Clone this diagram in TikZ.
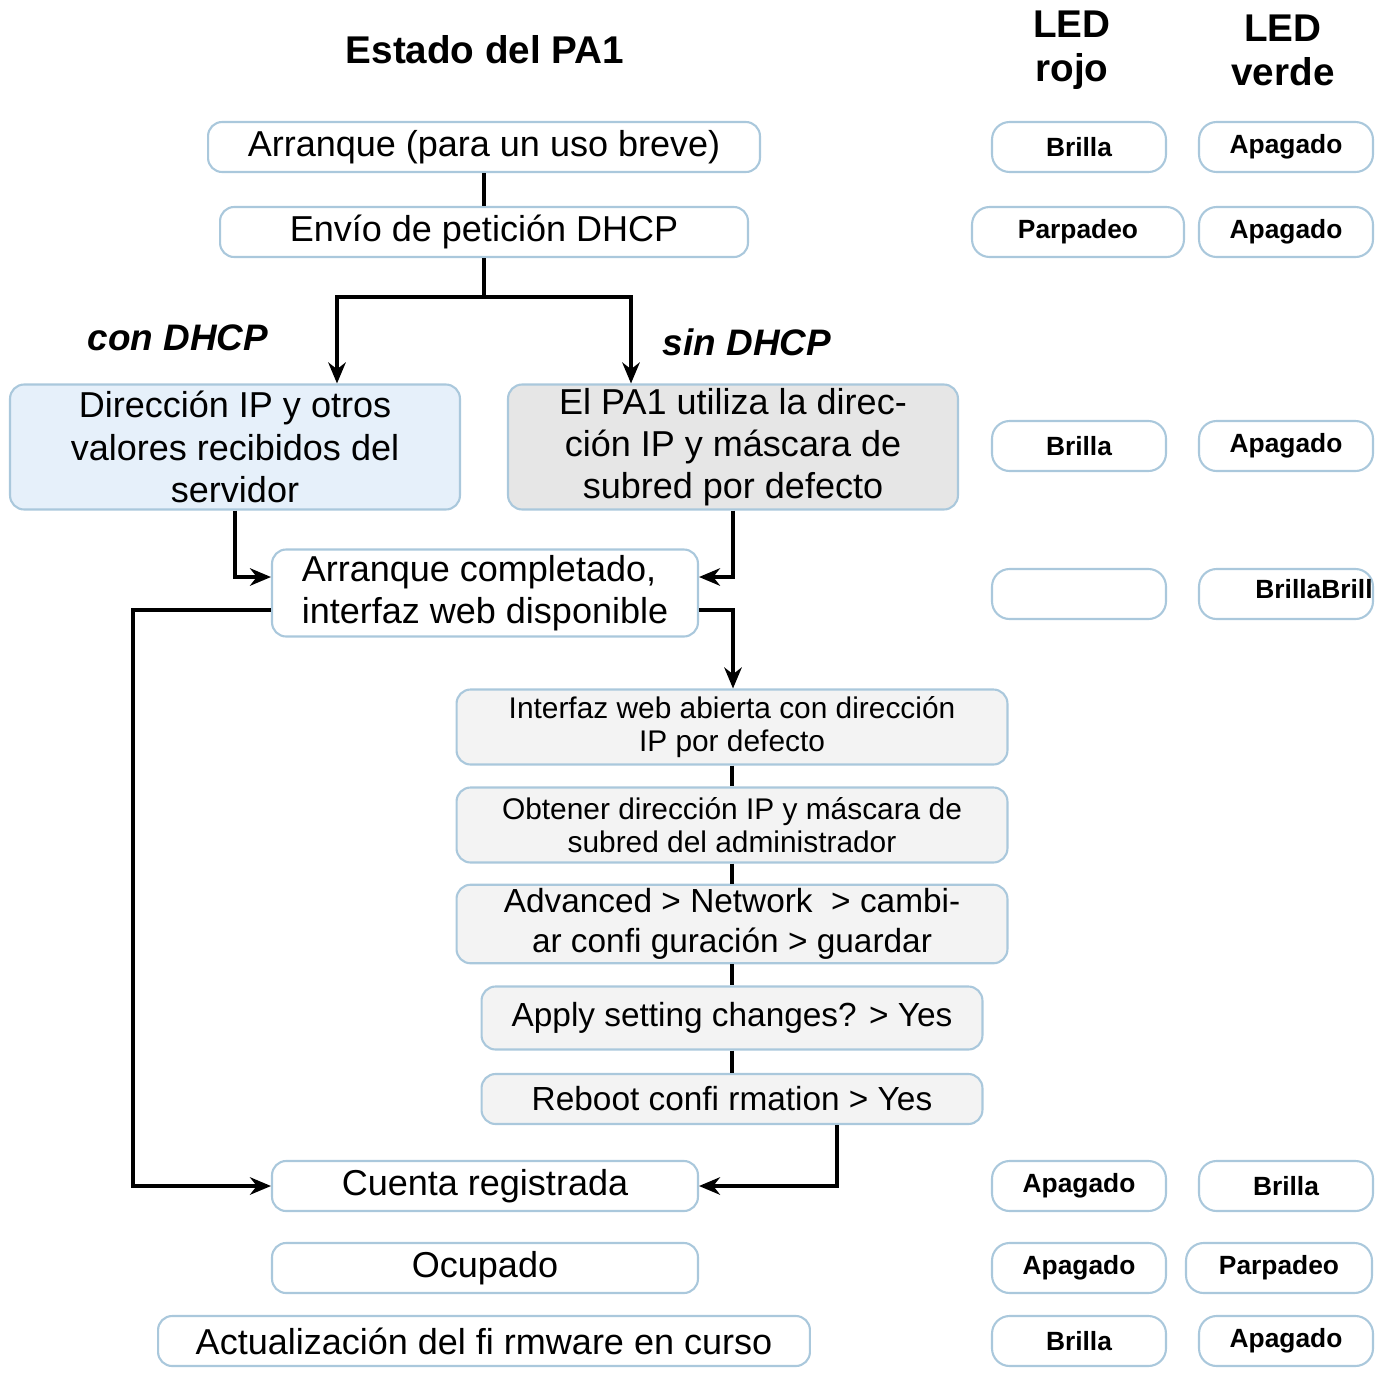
\documentclass[tikz,border=0pt]{standalone}
\usepackage{fontspec}
\setmainfont{Liberation Sans}
\usetikzlibrary{arrows.meta}
\definecolor{boxline}{RGB}{170,200,220}
\definecolor{blueish}{RGB}{230,240,250}
\definecolor{grayish}{RGB}{230,230,230}
\definecolor{pale}{RGB}{243,243,243}
\tikzset{
  state/.style={draw=boxline,line width=1.2pt,rounded corners=8pt,fill=white,align=center,inner sep=2pt,
    font=\fontsize{20.5}{24}\selectfont},
  small/.style={state,fill=pale,font=\fontsize{17}{19}\selectfont},
  led/.style={draw=boxline,line width=1.2pt,rounded corners=10pt,minimum width=3.48cm,minimum height=1cm,
    font=\bfseries\fontsize{15}{16}\selectfont},
  head/.style={font=\bfseries\fontsize{22}{25}\selectfont,align=center},
  flow/.style={line width=1.8pt,-{Stealth[length=12pt,width=10pt]}},
  link/.style={line width=1.8pt}
}
\begin{document}
\begin{tikzpicture}[x=0.02cm,y=-0.02cm]
\useasboundingbox (0,0) rectangle (1390,1373);

% headings
\node[head] (title) at (485,50) {Estado del PA1};
\node[head] (rojo) at (1072,50) {LED\\rojo};
\node[head] (verde) at (1283,50) {LED\\verde};

% states
\node[state,minimum width=11.04cm,minimum height=1cm] (boot) at (484,147) {Arranque (para un uso breve)};
\node[state,minimum width=10.56cm,minimum height=1cm] (dhcp) at (484,232) {Envío de petición DHCP};
\node[state,fill=blueish,minimum width=9cm,minimum height=2.5cm] (withip) at (235,447) {Dirección IP y otros\\valores recibidos del\\servidor};
\node[state,fill=grayish,minimum width=9cm,minimum height=2.5cm] (noip) at (733,447) {El PA1 utiliza la direc-\\ción IP y máscara de\\subred por defecto};
\node[state,minimum width=8.52cm,minimum height=1.74cm,align=left] (ready) at (485,593) {Arranque completado,\\interfaz web disponible};
\node[small,minimum width=11.02cm,minimum height=1.5cm] (web) at (732,727) {Interfaz web abierta con dirección\\IP por defecto};
\node[small,minimum width=11.02cm,minimum height=1.5cm] (admin) at (732,825) {Obtener dirección IP y máscara de\\subred del administrador};
\node[small,font=\fontsize{19}{23}\selectfont,minimum width=11.02cm,minimum height=1.54cm] (adv) at (732,924) {Advanced > Network \ > cambi-\\ar confi guración > guardar};
\node[small,font=\fontsize{19}{23}\selectfont,minimum width=10.02cm,minimum height=1.26cm] (apply) at (732,1018) {Apply setting changes? > Yes};
\node[small,font=\fontsize{19}{23}\selectfont,minimum width=10.02cm,minimum height=1cm] (reboot) at (732,1099) {Reboot confi rmation > Yes};
\node[state,minimum width=8.52cm,minimum height=1cm] (account) at (485,1186) {Cuenta registrada};
\node[state,minimum width=8.52cm,minimum height=1cm] (busy) at (485,1268) {Ocupado};
\node[state,minimum width=13.04cm,minimum height=1cm] (update) at (484,1341) {Actualización del fi rmware en curso};

% LEDs
\node[led] (r1) at (1079,147) {Brilla};
\node[led] (g1) at (1286,147) {Apagado};
\node[led,minimum width=4.24cm] (r2) at (1078,232) {Parpadeo};
\node[led] (g2) at (1286,232) {Apagado};
\node[led] (r3) at (1079,446) {Brilla};
\node[led] (g3) at (1286,446) {Apagado};
\node[led] (r4) at (1079,594) {};
\node[led] (g4) at (1286,594) {};
\node[font=\bfseries\fontsize{15}{16}\selectfont] (g4t) at (1314,589) {BrillaBrill};
\node[led] (r5) at (1079,1186) {Apagado};
\node[led] (g5) at (1286,1186) {Brilla};
\node[led] (r6) at (1079,1268) {Apagado};
\node[led,minimum width=3.72cm] (g6) at (1279,1268) {Parpadeo};
\node[led] (r7) at (1079,1341) {Brilla};
\node[led] (g7) at (1286,1341) {Apagado};

% connectors
\coordinate (split) at (484,297);
\draw[link] (boot) -- (dhcp);
\draw[link] (dhcp) -- (split);
\draw[flow] (split) -| (withip.north -| 337,0);
\draw[flow] (split) -| (noip.north -| 631,0);
\node[font=\bfseries\itshape\fontsize{21}{24}\selectfont] (con) at (178,338) {con DHCP};
\node[font=\bfseries\itshape\fontsize{21}{24}\selectfont] (sin) at (747,342) {sin DHCP};

\draw[flow] (withip.south) |- (ready.west |- 0,577);
\draw[flow] (noip.south) |- (ready.east |- 0,577);
\draw[flow] (ready.east |- 0,610) -| (web.north -| 733,0);
\coordinate (loop) at (133,610);
\draw[flow] (ready.west |- 0,610) -- (loop) |- (account.west);
\draw[link] (web) -- (admin);
\draw[link] (admin) -- (adv);
\draw[link] (adv) -- (apply);
\draw[link] (apply) -- (reboot);
\draw[flow] (reboot.south -| 837,0) |- (account.east);
\end{tikzpicture}
\end{document}
